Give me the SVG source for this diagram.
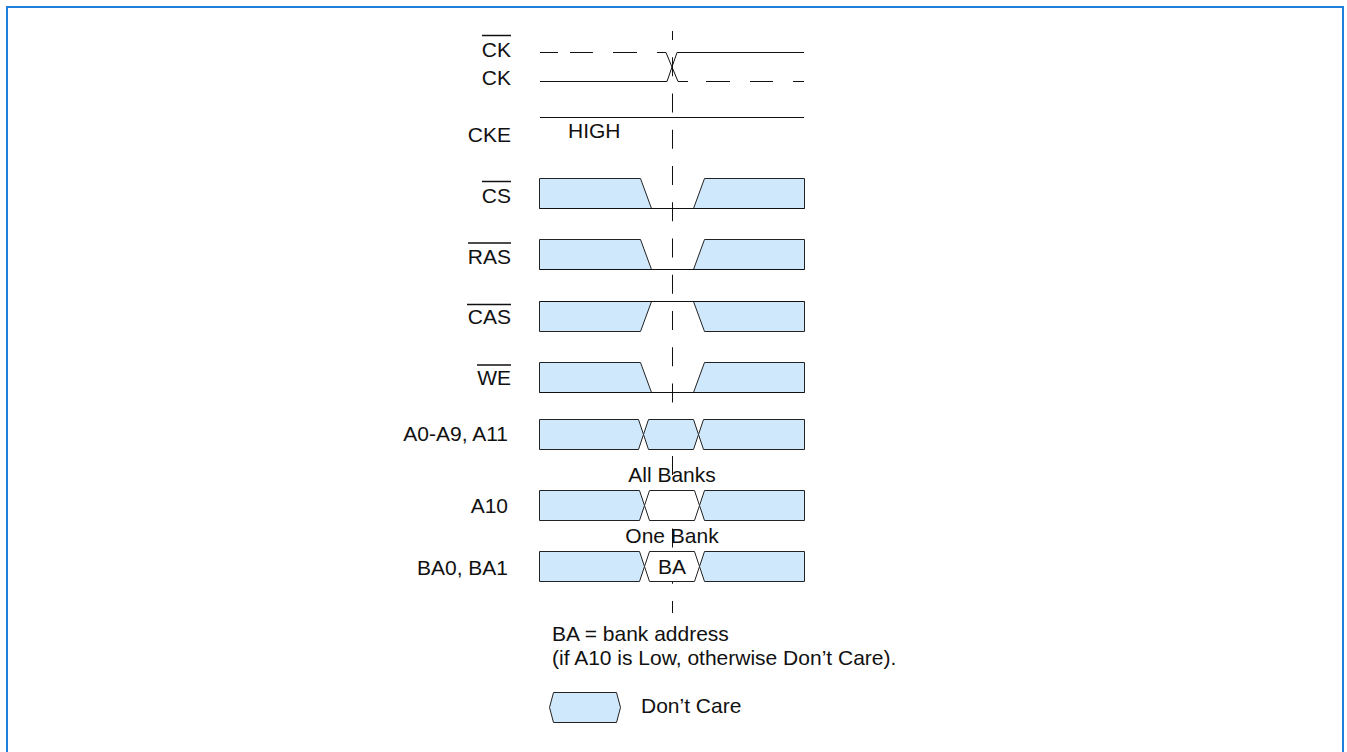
<svg xmlns="http://www.w3.org/2000/svg" width="1347" height="752" viewBox="0 0 1347 752">
<style>
.t{font-family:"Liberation Sans",Arial,sans-serif;font-size:21px;fill:#111}
.e{text-anchor:end}
.m{text-anchor:middle}
.w{fill:none;stroke:#111;stroke-width:1}
.dc{fill:#cfe8fc;stroke:#222;stroke-width:1}
.wh{fill:#fff;stroke:#222;stroke-width:1}
.ov{stroke:#111;stroke-width:1.5}
</style>
<rect x="7" y="7" width="1336" height="800" fill="#fff" stroke="#1f80dc" stroke-width="2"/>
<g id="reference-line">
<line x1="672.5" y1="31" x2="672.5" y2="613" stroke="#111" stroke-width="1" stroke-dasharray="19 17.25" stroke-dashoffset="10"/>
</g>
<g id="ck-n">
<text class="t e" x="511" y="56.5">CK</text>
<line class="ov" x1="482" y1="35.5" x2="511" y2="35.5"/>
<path class="w" d="M540 52.5H558M570 52.5H593M613 52.5H637M657 52.5H666L678 81.5H688M706 81.5H730M750 81.5H773M793 81.5H804"/>
</g>
<g id="ck">
<text class="t e" x="511" y="85">CK</text>
<path class="w" d="M540 81.5H667L677 52.5H804"/>
</g>
<g id="cke">
<text class="t e" x="511" y="142">CKE</text>
<text class="t" x="568" y="138">HIGH</text>
<path class="w" d="M540 117.5H804"/>
</g>
<g id="cs-n">
<text class="t e" x="511" y="203">CS</text>
<line class="ov" x1="482" y1="181.5" x2="511" y2="181.5"/>
<polygon class="dc" points="539.5,178.5 640.5,178.5 651.5,208.5 539.5,208.5"/>
<polygon class="dc" points="693.5,208.5 704.5,178.5 804.5,178.5 804.5,208.5"/>
<path class="w" d="M539.5 208.5H804.5"/>
</g>
<g id="ras-n">
<text class="t e" x="511" y="264">RAS</text>
<line class="ov" x1="468" y1="243" x2="511" y2="243"/>
<polygon class="dc" points="539.5,239.5 640.5,239.5 651.5,269.5 539.5,269.5"/>
<polygon class="dc" points="693.5,269.5 704.5,239.5 804.5,239.5 804.5,269.5"/>
<path class="w" d="M539.5 269.5H804.5"/>
</g>
<g id="cas-n">
<text class="t e" x="511" y="324">CAS</text>
<line class="ov" x1="467" y1="304.5" x2="511" y2="304.5"/>
<polygon class="dc" points="539.5,301.5 651.5,301.5 640.5,331.5 539.5,331.5"/>
<polygon class="dc" points="693.5,301.5 804.5,301.5 804.5,331.5 704.5,331.5"/>
<path class="w" d="M539.5 301.5H804.5"/>
</g>
<g id="we-n">
<text class="t e" x="511" y="385">WE</text>
<line class="ov" x1="477" y1="365" x2="511" y2="365"/>
<polygon class="dc" points="539.5,362.5 640.5,362.5 651.5,392.5 539.5,392.5"/>
<polygon class="dc" points="693.5,392.5 704.5,362.5 804.5,362.5 804.5,392.5"/>
<path class="w" d="M539.5 392.5H804.5"/>
</g>
<g id="a0-a9-a11">
<text class="t e" x="508" y="441">A0-A9, A11</text>
<polygon class="dc" points="539.5,419.5 638.5,419.5 643.5,434.5 638.5,449.5 539.5,449.5"/>
<polygon class="dc" points="643.5,434.5 648.5,419.5 693.5,419.5 698.5,434.5 693.5,449.5 648.5,449.5"/>
<polygon class="dc" points="698.5,434.5 703.5,419.5 804.5,419.5 804.5,449.5 703.5,449.5"/>
</g>
<g id="a10">
<text class="t m" x="672" y="482">All Banks</text>
<text class="t e" x="508" y="513">A10</text>
<polygon class="dc" points="539.5,490.5 639.5,490.5 644.5,505.5 639.5,520.5 539.5,520.5"/>
<polygon class="wh" points="644.5,505.5 649.5,490.5 694.5,490.5 699.5,505.5 694.5,520.5 649.5,520.5"/>
<polygon class="dc" points="699.5,505.5 704.5,490.5 804.5,490.5 804.5,520.5 704.5,520.5"/>
</g>
<g id="ba0-ba1">
<text class="t m" x="672" y="543">One Bank</text>
<text class="t e" x="508" y="575">BA0, BA1</text>
<polygon class="dc" points="539.5,551.5 639.5,551.5 644.5,566.5 639.5,581.5 539.5,581.5"/>
<polygon class="wh" points="644.5,566.5 649.5,551.5 694.5,551.5 699.5,566.5 694.5,581.5 649.5,581.5"/>
<polygon class="dc" points="699.5,566.5 704.5,551.5 804.5,551.5 804.5,581.5 704.5,581.5"/>
<text class="t m" x="672" y="574">BA</text>
</g>
<g id="notes">
<text class="t" x="552" y="641">BA = bank address</text>
<text class="t" x="552" y="665">(if A10 is Low, otherwise Don’t Care).</text>
</g>
<g id="legend">
<polygon class="dc" points="549.5,707.5 553.5,692.5 616.5,692.5 620.5,707.5 616.5,722.5 553.5,722.5"/>
<text class="t" x="641" y="713">Don’t Care</text>
</g>
</svg>
